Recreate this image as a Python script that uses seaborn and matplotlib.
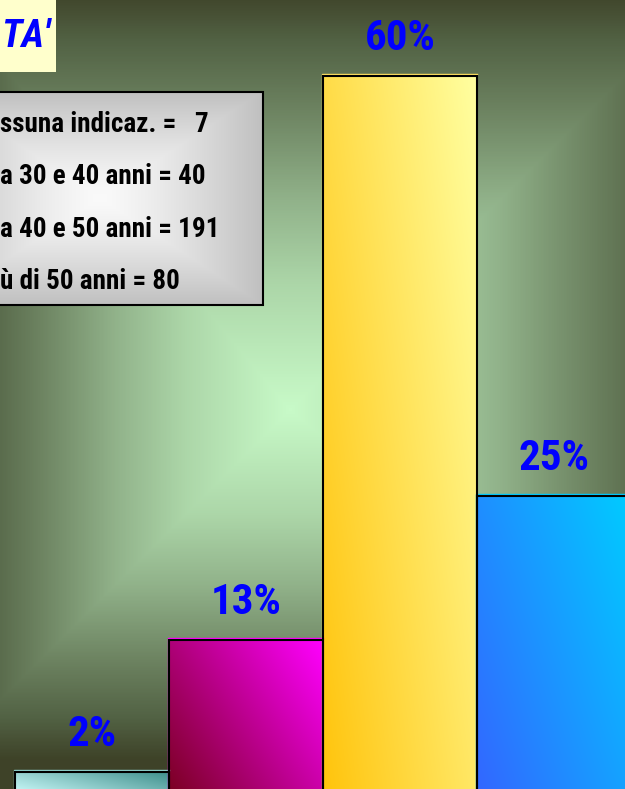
import numpy as np
import pandas as pd
import matplotlib
matplotlib.use("Agg")
import matplotlib.pyplot as plt
from matplotlib import font_manager
from matplotlib.colors import LinearSegmentedColormap, to_rgb
from matplotlib.patches import Rectangle
import seaborn as sns

# values
fasce = ["Nessuna indicaz.", "Tra 30 e 40 anni", "Tra 40 e 50 anni", "Più di 50 anni"]
risposte = [7, 40, 191, 80]
percentuali = [2, 13, 60, 25]
# the slide is cropped on the left, only these parts of the labels show
nomi_visibili = ["ssuna indicaz.", "a 30 e 40 anni", "a 40 e 50 anni", "ù di 50 anni"]
titolo = "TA'"

# bar gradients: bottom-left colour -> top-right colour
colori_barre = [("#d2ffff", "#3f8f8c"),
                ("#7a0020", "#ff00ff"),
                ("#ffc40c", "#ffffa0"),
                ("#3366ff", "#00ccff")]
colori_bordo = ["#8fd0cc", "#ff00ff", "#ffe060", "#00ccff"]

W, H = 625, 789

# look for a condensed sans (the slide uses Arial Narrow)
names = {f.name for f in font_manager.fontManager.ttflist}
narrow_fonts = [n for n in ["Liberation Sans Narrow", "Roboto Condensed", "Open Sans Condensed",
                            "Arial Narrow"] if n in names]
if narrow_fonts:
    fam = [narrow_fonts[0], "DejaVu Sans"]
    fs_leg, fs_pct, fs_tit = 19.5, 31, 28
else:
    fam = ["Liberation Sans", "DejaVu Sans"]
    fs_leg, fs_pct, fs_tit = 17, 26, 26

fig = plt.figure(figsize=(W / 100, H / 100), dpi=100)

# background: rectangular "from centre" gradient
bg = fig.add_axes([0, 0, 1, 1])
X, Y = np.meshgrid(np.arange(W) + 0.5, np.arange(H) + 0.5)
cx, cy = 290, 410
dx = np.where(X < cx, (cx - X) / 350, (X - cx) / 420)
dy = np.where(Y < cy, (cy - Y) / 420, (Y - cy) / 350)
t = np.clip(np.maximum(dx, dy), 0, 1)
bg_cmap = LinearSegmentedColormap.from_list("bg", [
    (0.0, (200 / 255, 250 / 255, 200 / 255)),
    (0.3, (172 / 255, 214 / 255, 168 / 255)),
    (0.5, (145 / 255, 178 / 255, 138 / 255)),
    (0.72, (108 / 255, 130 / 255, 96 / 255)),
    (0.88, (82 / 255, 98 / 255, 68 / 255)),
    (1.0, (62 / 255, 66 / 255, 40 / 255))])
bg.imshow(bg_cmap(t), extent=(0, W, H, 0), aspect="auto", interpolation="bilinear")
bg.set_xlim(0, W)
bg.set_ylim(H, 0)
bg.axis("off")

# bars
ax = fig.add_axes([0, 0, 1, 1])
ax.patch.set_alpha(0)
df = pd.DataFrame({"fascia": fasce, "perc": percentuali})
sns.barplot(data=df, x="fascia", y="perc", order=fasce, width=1.0, color="white",
            edgecolor="black", linewidth=1.5, ax=ax)

gx, gy = np.meshgrid(np.linspace(0, 1, 60), np.linspace(0, 1, 200))
u = 0.6 * gx + 0.4 * gy
for p, (c0, c1), rim in zip(ax.patches, colori_barre, colori_bordo):
    a, b = np.array(to_rgb(c0)), np.array(to_rgb(c1))
    img = a[None, None, :] * (1 - u[..., None]) + b[None, None, :] * u[..., None]
    x0, y0 = p.get_x(), p.get_y()
    im = ax.imshow(img, extent=(x0, x0 + p.get_width(), y0, y0 + p.get_height()),
                   origin="lower", aspect="auto", interpolation="bilinear", zorder=1)
    im.set_clip_path(p)
    p.set_facecolor("none")
    p.set_zorder(3)
    # thin light rim on the top and left, as in the slide
    ax.plot([x0 - 0.008, x0 - 0.008, x0 + p.get_width()],
            [0, p.get_height() + 0.17, p.get_height() + 0.17],
            color=rim, lw=1.0, zorder=2.5)

for i, v in enumerate(percentuali):
    ax.text(i, v + 26 / 12, f"{v}%", ha="center", va="baseline", color="#0000ff",
            fontsize=fs_pct, fontweight="bold", family=fam, zorder=4)

x_left = -0.5 - 15 / 154
ax.set_xlim(x_left, x_left + W / 154)
ax.set_ylim(7 / 12, 796 / 12)
ax.axis("off")

# title box and legend box, in pixel coordinates
ov = fig.add_axes([0, 0, 1, 1])
ov.patch.set_alpha(0)
ov.set_xlim(0, W)
ov.set_ylim(H, 0)
ov.axis("off")

ov.add_patch(Rectangle((0, 0), 56, 72, facecolor="#ffffcc", edgecolor="none"))
ov.text(1, 47, titolo, ha="left", va="baseline", color="#0000ff", fontsize=fs_tit,
        fontweight="bold", style="italic", family=fam)

lx, ly = np.meshgrid(np.arange(-60, 263) + 0.5, np.arange(92, 305) + 0.5)
lt = np.clip(np.maximum(np.abs(lx - 100) / 163, np.abs(ly - 198) / 107), 0, 1)
grey = 0.98 - (0.98 - 0.75) * lt ** 1.3
ov.imshow(np.dstack([grey, grey, grey]), extent=(-60, 263, 305, 92), aspect="auto",
          interpolation="bilinear", zorder=1)
ov.add_patch(Rectangle((-60, 92), 323, 213, facecolor="none", edgecolor="black",
                       linewidth=1.5, zorder=2))
for k, (nome, n) in enumerate(zip(nomi_visibili, risposte)):
    sep = "   " if n < 10 else " "
    ov.text(0, 132 + k * 52.3, f"{nome} ={sep}{n}", ha="left", va="baseline",
            color="black", fontsize=fs_leg, fontweight="bold", family=fam, zorder=3)
ov.set_xlim(0, W)
ov.set_ylim(H, 0)

fig.savefig("out.png", dpi=100)
